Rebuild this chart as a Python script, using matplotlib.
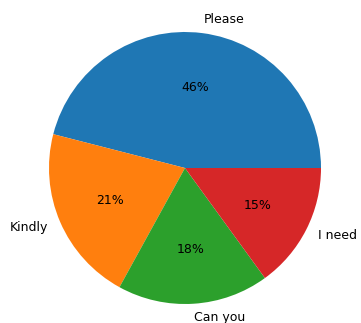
import matplotlib
matplotlib.use("Agg")
import matplotlib.pyplot as plt

# доли вежливых формулировок
labels = ["Please", "Kindly", "Can you", "I need"]
shares = [46, 21, 18, 15]

fig = plt.figure(figsize=(3.61, 3.23), dpi=100)
ax = fig.add_axes([0, 0, 1, 1])
ax.pie(shares, labels=labels, autopct="%1.0f%%",
       textprops={"fontsize": 9})

# центр круга ~ (185, 168) px, радиус ~ 136 px
r = 136.0
ax.set_xlim(-185 / r, (361 - 185) / r)
ax.set_ylim(-(323 - 168) / r, 168 / r)
ax.set_aspect("auto")

plt.savefig("out.png", dpi=100)
